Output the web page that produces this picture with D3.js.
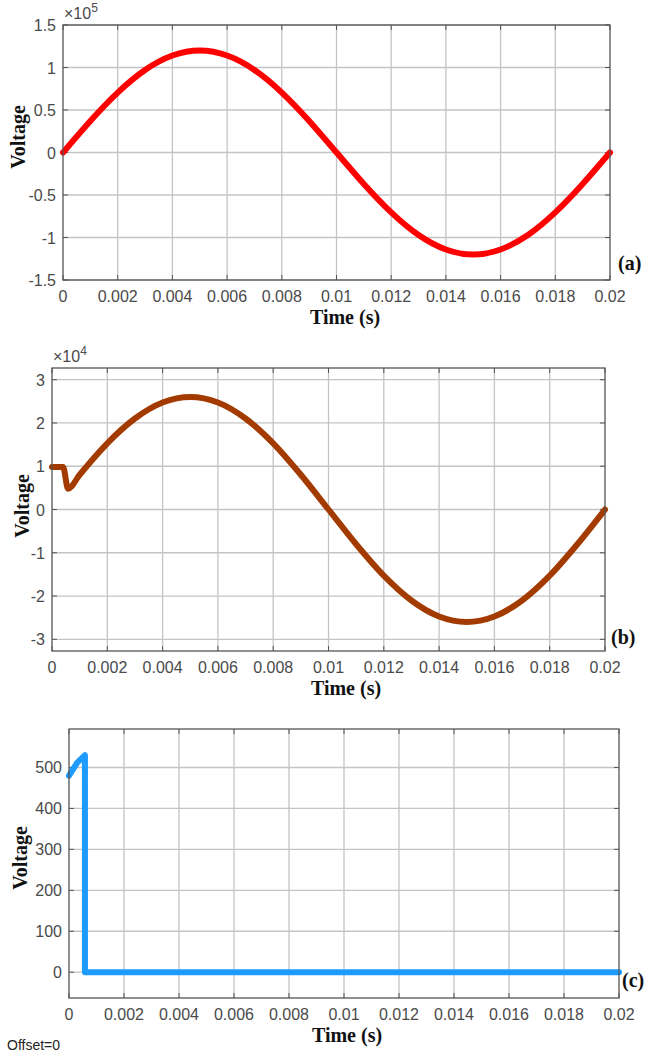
<!DOCTYPE html>
<html>
<head>
<meta charset="utf-8">
<script src="https://cdn.jsdelivr.net/npm/d3@7"></script>
<style>
  body { margin: 0; background: #fff; }
  svg { display: block; }
  .tick-label { font-family: "Liberation Sans", Arial, sans-serif; font-size: 16px; fill: #4a4a4a; }
  .axis-title { font-family: "Liberation Serif", "Times New Roman", serif; font-size: 20px; font-weight: bold; fill: #111; }
</style>
</head>
<body>
<div id="chart"></div>
<script>
// time ticks shared by all three panels
const timeTicks = [0, 0.002, 0.004, 0.006, 0.008, 0.01, 0.012, 0.014, 0.016, 0.018, 0.02];

// (a) source voltage
const timeA = [0, 0.001, 0.002, 0.003, 0.004, 0.005, 0.006, 0.007, 0.008, 0.009, 0.01,
    0.011, 0.012, 0.013, 0.014, 0.015, 0.016, 0.017, 0.018, 0.019, 0.02];
const voltA = [0, 37100, 70500, 97100, 114100, 120000, 114100, 97100, 70500, 37100, 0,
    -37100, -70500, -97100, -114100, -120000, -114100, -97100, -70500, -37100, 0];
const ticksA = [-150000, -100000, -50000, 0, 50000, 100000, 150000];

// (b) load voltage with start-up dip
const timeB = [0, 0.0004, 0.00058, 0.001, 0.0015, 0.002, 0.003, 0.004, 0.005, 0.006, 0.007, 0.008,
    0.009, 0.01, 0.011, 0.012, 0.013, 0.014, 0.015, 0.016, 0.017, 0.018, 0.019, 0.02];
const voltB = [9800, 9800, 4800, 8030, 11800, 15290, 21030, 24730, 26000, 24730, 21030, 15290,
    8030, 0, -8030, -15290, -21030, -24730, -26000, -24730, -21030, -15290, -8030, 0];
const ticksB = [-30000, -20000, -10000, 0, 10000, 20000, 30000];

// (c) capacitor voltage
const timeC = [0, 0.0003, 0.00058, 0.00058, 0.02];
const voltC = [480, 512, 530, 0, 0];
const ticksC = [0, 100, 200, 300, 400, 500];

const W = 648, H = 1053;
const svg = d3.select("#chart").append("svg")
    .attr("width", W)
    .attr("height", H);

// MATLAB style labels: plain hyphen minus
const fmt = v => d3.format("~g")(v).replace("\u2212", "-");

function drawPanel(p) {
    const x = d3.scaleLinear().domain([0, 0.02]).range([p.left, p.right]);
    const y = d3.scaleLinear().domain(p.yDomain).range([p.bottom, p.top]);
    const g = svg.append("g");

    // grid
    g.selectAll(".gx").data(timeTicks.slice(1, -1)).enter().append("line")
        .attr("x1", d => x(d)).attr("x2", d => x(d))
        .attr("y1", p.top).attr("y2", p.bottom)
        .attr("stroke", "#c4c4c4").attr("stroke-width", 1.3);
    g.selectAll(".gy").data(p.yTicks).enter().append("line")
        .attr("x1", p.left).attr("x2", p.right)
        .attr("y1", d => y(d)).attr("y2", d => y(d))
        .attr("stroke", "#c4c4c4").attr("stroke-width", 1.3);

    // inward tick marks
    const tl = 5;
    timeTicks.forEach(t => {
        g.append("line").attr("x1", x(t)).attr("x2", x(t))
            .attr("y1", p.bottom).attr("y2", p.bottom - tl).attr("stroke", "#555");
        g.append("line").attr("x1", x(t)).attr("x2", x(t))
            .attr("y1", p.top).attr("y2", p.top + tl).attr("stroke", "#555");
    });
    p.yTicks.forEach(v => {
        g.append("line").attr("x1", p.left).attr("x2", p.left + tl)
            .attr("y1", y(v)).attr("y2", y(v)).attr("stroke", "#555");
        g.append("line").attr("x1", p.right).attr("x2", p.right - tl)
            .attr("y1", y(v)).attr("y2", y(v)).attr("stroke", "#555");
    });

    // tick labels
    g.selectAll(".xl").data(timeTicks).enter().append("text")
        .attr("class", "tick-label")
        .attr("x", d => x(d)).attr("y", p.bottom + 22)
        .attr("text-anchor", "middle")
        .text(d => fmt(d));
    g.selectAll(".yl").data(p.yTicks).enter().append("text")
        .attr("class", "tick-label")
        .attr("x", p.left - 7).attr("y", d => y(d) + 6)
        .attr("text-anchor", "end")
        .text(d => fmt(d / p.scale));

    if (p.expo) {
        const e = g.append("text").attr("class", "tick-label")
            .attr("x", p.left + 1).attr("y", p.top - 6);
        e.append("tspan").text("×10");
        e.append("tspan").attr("dy", -7).attr("font-size", 12).text(p.expo);
    }

    // data line
    const line = d3.line()
        .x((d, i) => x(p.time[i]))
        .y(d => y(d))
        .curve(p.curve);
    g.append("path").datum(p.volt)
        .attr("d", line)
        .attr("fill", "none")
        .attr("stroke", p.color)
        .attr("stroke-width", 6)
        .attr("stroke-linejoin", "round")
        .attr("stroke-linecap", "round");

    // axes box
    g.append("rect")
        .attr("x", p.left).attr("y", p.top)
        .attr("width", p.right - p.left).attr("height", p.bottom - p.top)
        .attr("fill", "none").attr("stroke", "#555").attr("stroke-width", 1.3);

    // titles
    g.append("text").attr("class", "axis-title")
        .attr("transform", `translate(${p.yLabelX},${p.yLabelY}) rotate(-90)`)
        .attr("text-anchor", "middle")
        .text("Voltage");
    g.append("text").attr("class", "axis-title")
        .attr("x", p.xLabelX).attr("y", p.bottom + 44)
        .attr("text-anchor", "middle")
        .text("Time (s)");
    g.append("text").attr("class", "axis-title")
        .attr("x", p.tagX).attr("y", p.tagY)
        .text(p.tag);
}

drawPanel({
    left: 63, right: 610, top: 25, bottom: 280,
    yDomain: [-150000, 150000], yTicks: ticksA, scale: 100000, expo: "5",
    time: timeA, volt: voltA, color: "#ff0000", curve: d3.curveNatural,
    yLabelX: 25, yLabelY: 137, xLabelX: 345, tag: "(a)", tagX: 618, tagY: 270
});

drawPanel({
    left: 52, right: 605, top: 368, bottom: 651,
    yDomain: [-32700, 32700], yTicks: ticksB, scale: 10000, expo: "4",
    time: timeB, volt: voltB, color: "#a33a00", curve: d3.curveMonotoneX,
    yLabelX: 29, yLabelY: 506, xLabelX: 346, tag: "(b)", tagX: 611, tagY: 644
});

drawPanel({
    left: 69, right: 619, top: 729, bottom: 998,
    yDomain: [-63, 594], yTicks: ticksC, scale: 1, expo: null,
    time: timeC, volt: voltC, color: "#1e9bff", curve: d3.curveLinear,
    yLabelX: 27, yLabelY: 858, xLabelX: 347, tag: "(c)", tagX: 622, tagY: 987
});

svg.append("text")
    .attr("x", 7).attr("y", 1050)
    .attr("font-family", "Liberation Sans, Arial, sans-serif")
    .attr("font-size", 14)
    .attr("fill", "#222")
    .text("Offset=0");
</script>
</body>
</html>
